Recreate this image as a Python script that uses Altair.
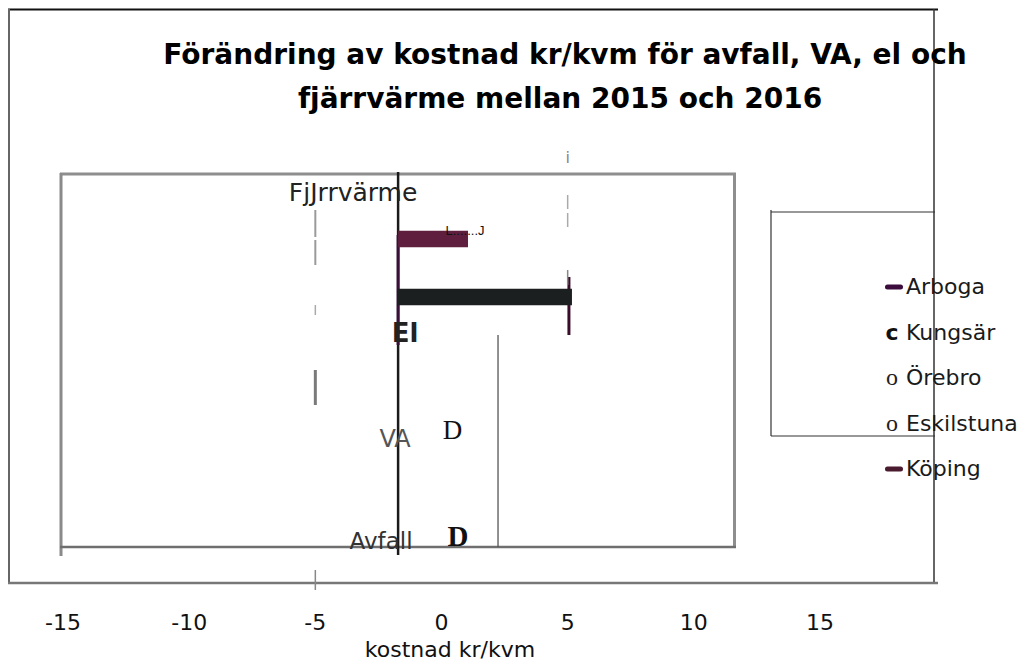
import altair as alt
import pandas as pd

# ---------------- data ----------------
title_lines = ["Förändring av kostnad kr/kvm för avfall, VA, el och",
               "fjärrvärme mellan 2015 och 2016"]
categories = ["Fjärrvärme", "El", "VA", "Avfall"]
category_labels = ["FjJrrvärme", "El", "VA", "Avfall"]   # as printed
series = ["Arboga", "Kungsär", "Örebro", "Eskilstuna", "Köping"]
series_colors = ["#3b0c3c", "#1c1f1f", "#555555", "#5f1e3e", "#4a1a2e"]
legend_glyphs = ["", "c", "o", "o", ""]
x_ticks = [-15, -10, -5, 0, 5, 10, 15]
x_tick_labels = ["-15", "-10", "-5", "0", "5", "10", "15"]
x_title = "kostnad kr/kvm"

bar_category = ["Fjärrvärme", "El"]
bar_series = ["Eskilstuna", "Kungsär"]
bar_start = [-1.72, -1.76]
bar_end = [1.05, 5.17]

marker_category = ["VA", "Avfall"]
marker_value = [0.44, 0.65]
marker_text = ["D", "D"]

axis_line_value = -1.72
ref_values = [-5, 5]
bar_end_line_value = 5.05
extra_line_value = 2.24
bracket_text = "L.......J"

# ---------------- tables ----------------
bars_df = pd.DataFrame({"category": bar_category, "series": bar_series,
                        "start": bar_start, "end": bar_end})
cat_df = pd.DataFrame({"category": categories, "label": category_labels})
mark_df = pd.DataFrame({"category": marker_category, "value": marker_value,
                        "glyph": marker_text})
leg_df = pd.DataFrame({"series": series, "glyph": legend_glyphs})
tick_df = pd.DataFrame({"tick": x_ticks, "label": x_tick_labels})
title_df = pd.DataFrame({"line": title_lines})
dummy = pd.DataFrame({"k": [0]})

W, H = 757, 372

xscale = alt.Scale(domain=[-15, 15], nice=False, zero=False)

y_cat = alt.Y("category:N", sort=categories,
              scale=alt.Scale(domain=categories, paddingInner=0, paddingOuter=0),
              axis=None)
color_enc = alt.Color("series:N", scale=alt.Scale(domain=series, range=series_colors),
                      legend=None)

bars = alt.Chart(bars_df).mark_bar().encode(
    x=alt.X("start:Q", scale=xscale, axis=None),
    x2=alt.X2("end:Q"),
    y=y_cat,
    yOffset=alt.YOffset("series:N", sort=series,
                        scale=alt.Scale(domain=series, paddingInner=0.05, paddingOuter=0.2)),
    color=color_enc,
)

label_styles = {
    "Fjärrvärme": dict(dx=-45, dy=-29, font="DejaVu Sans", fontSize=25, fontWeight="normal", color="#222222"),
    "El": dict(dx=7, dy=19, font="DejaVu Sans", fontSize=26, fontWeight="bold", color="#222222"),
    "VA": dict(dx=-3, dy=32, font="DejaVu Sans", fontSize=24, fontWeight="normal", color="#555555"),
    "Avfall": dict(dx=-17, dy=41, font="DejaVu Sans", fontSize=23, fontWeight="normal", color="#333333"),
}
label_layers = []
for cat in categories:
    st = label_styles[cat]
    label_layers.append(
        alt.Chart(cat_df).transform_filter(alt.datum.category == cat)
        .mark_text(baseline="middle", align="center", **st)
        .encode(x=alt.XDatum(axis_line_value, axis=None), y=y_cat, text="label:N")
    )

marker_styles = [dict(dy=23, font="Liberation Serif", fontSize=27, fontWeight="normal"),
                 dict(dy=36, font="Liberation Serif", fontSize=29, fontWeight="bold")]
marker_layers = []
for cat, st in zip(marker_category, marker_styles):
    marker_layers.append(
        alt.Chart(mark_df).transform_filter(alt.datum.category == cat)
        .mark_text(baseline="middle", align="center", color="#111111", **st)
        .encode(x=alt.X("value:Q", axis=None), y=y_cat, text="glyph:N")
    )

# x axis tick labels and title (drawn as text through the x scale)
tick_labels = alt.Chart(tick_df).mark_text(
    baseline="alphabetic", align="center", font="DejaVu Sans", fontSize=22,
    color="#111111").encode(x=alt.X("tick:Q", axis=None), y=alt.value(455), text="label:N")
axis_title = alt.Chart(dummy).mark_text(
    text=x_title, baseline="alphabetic", align="center", font="DejaVu Sans",
    fontSize=22, color="#111111").encode(x=alt.value(387), y=alt.value(482))

title_marks = [
    alt.Chart(title_df).transform_filter(alt.datum.line == title_lines[0]).mark_text(
        baseline="alphabetic", align="center", font="DejaVu Sans", fontSize=28,
        fontWeight="bold", color="#000000").encode(
        x=alt.value(502), y=alt.value(-111), text="line:N"),
    alt.Chart(title_df).transform_filter(alt.datum.line == title_lines[1]).mark_text(
        baseline="alphabetic", align="center", font="DejaVu Sans", fontSize=28,
        fontWeight="bold", color="#000000").encode(
        x=alt.value(497), y=alt.value(-67), text="line:N"),
]


def vline(value, y, y2, color, width, dash=None):
    kw = dict(color=color, strokeWidth=width)
    if dash:
        kw["strokeDash"] = dash
    return alt.Chart(dummy).mark_rule(**kw).encode(
        x=alt.XDatum(value, axis=None), y=alt.value(y), y2=alt.value(y2))


def seg(x, x2, y, y2, color, width):
    return alt.Chart(dummy).mark_rule(color=color, strokeWidth=width).encode(
        x=alt.value(x), x2=alt.value(x2), y=alt.value(y), y2=alt.value(y2))


value_lines = [
    vline(axis_line_value, -3, 380, "#1a1a1a", 2.5),
    vline(axis_line_value, 60, 170, "#3a0f3a", 3),
    vline(bar_end_line_value, 102, 160, "#3b0d2b", 3),
    vline(extra_line_value, 160, 372, "#555555", 1.3),
    vline(ref_values[0], 35, 62, "#9a9a9a", 2),
    vline(ref_values[0], 65, 90, "#9a9a9a", 2),
    vline(ref_values[0], 130, 140, "#aaaaaa", 1.5),
    vline(ref_values[0], 195, 230, "#7a7a7a", 3),
    vline(ref_values[0], 395, 415, "#888888", 1.5),
    vline(ref_values[1], 20, 55, "#aaaaaa", 1.5, [14, 4]),
    vline(ref_values[1], 95, 110, "#888888", 1.5),
]

small_texts = [
    alt.Chart(dummy).mark_text(text="i", font="DejaVu Sans", fontSize=16, color="#888888",
                               baseline="middle").encode(
        x=alt.XDatum(ref_values[1], axis=None), y=alt.value(-17)),
    alt.Chart(dummy).mark_text(text=bracket_text, font="Liberation Sans", fontSize=13,
                               color="#111111", baseline="middle").encode(
        x=alt.value(402), y=alt.value(56)),
]

frames = [
    # outer frame
    seg(-55, 875, -165.5, -165.5, "#111111", 2),
    seg(-54, -54, -166, 408, "#666666", 2),
    seg(871, 871, -166, 408, "#333333", 1.5),
    seg(-55, 875, 408, 408, "#777777", 2.5),
    # inner plot frame
    seg(-3, 673, -1, -1, "#8e8e8e", 3),
    seg(-2, -2, -2, 381, "#8a8a8a", 3),
    seg(671.5, 671.5, -2, 372, "#8e8e8e", 3),
    seg(-3, 673, 372, 372, "#6f6f6f", 2.5),
    # legend box
    seg(708, 872, 37, 37, "#333333", 1.2),
    seg(708, 708, 35, 261, "#333333", 1.2),
    seg(708, 872, 261, 261, "#333333", 1.2),
]

y_leg = alt.Y("series:N", sort=series,
              scale=alt.Scale(type="point", domain=series, range=[112, 294], padding=0),
              axis=None)
leg_text = alt.Chart(leg_df).mark_text(align="left", baseline="middle", font="DejaVu Sans",
                                       fontSize=22, color="#1a1a1a").encode(
    x=alt.value(843), y=y_leg, text="series:N")
leg_dash = alt.Chart(leg_df).transform_filter(alt.datum.glyph == "").mark_point(
    shape="stroke", size=170, strokeWidth=5, strokeCap="round", filled=False, opacity=1).encode(
    x=alt.value(831), y=y_leg, color=color_enc)
leg_c = alt.Chart(leg_df).transform_filter(alt.datum.glyph == "c").mark_text(
    align="center", baseline="middle", font="DejaVu Sans", fontSize=22, fontWeight="bold",
    color="#111111").encode(x=alt.value(829), y=y_leg, text="glyph:N")
leg_o = alt.Chart(leg_df).transform_filter(alt.datum.glyph == "o").mark_text(
    align="center", baseline="middle", font="Liberation Serif", fontSize=24,
    color="#222222").encode(x=alt.value(829), y=y_leg, text="glyph:N")

main = alt.layer(bars, *label_layers, *marker_layers, tick_labels)
legend = alt.layer(leg_text, leg_dash, leg_c, leg_o)

chart = alt.layer(*frames, *value_lines, main, *small_texts, axis_title, *title_marks,
                  legend).resolve_scale(
    y="independent"
).properties(
    width=W, height=H,
    autosize=alt.AutoSizeParams(type="none"),
    padding={"left": 55, "top": 167, "right": 202, "bottom": 116},
).configure(background="white", view=alt.ViewConfig(stroke=None))

chart.save("out.html", embed_options={"renderer": "svg", "actions": False})
